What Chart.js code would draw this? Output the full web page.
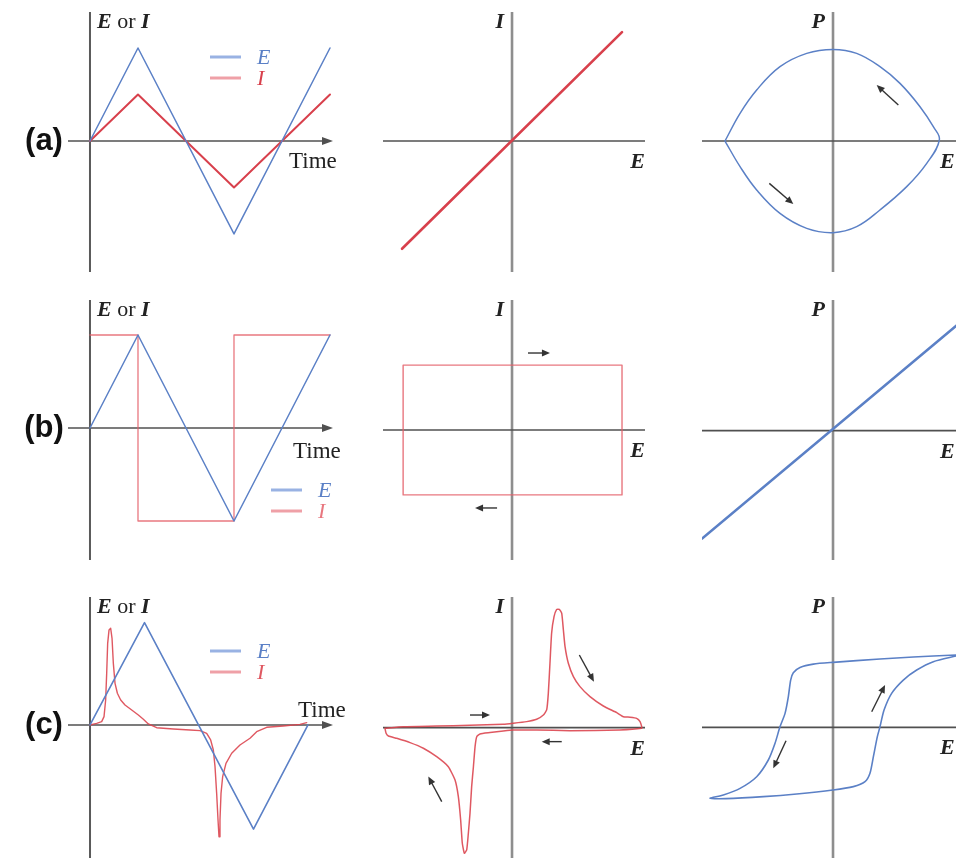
<!DOCTYPE html>
<html>
<head>
<meta charset="utf-8">
<script src="https://cdn.jsdelivr.net/npm/chart.js@4.4.1/dist/chart.umd.min.js"></script>
<style>
  html, body { margin: 0; padding: 0; background: #fff; width: 956px; height: 858px; overflow: hidden; }
  canvas { position: absolute; }
</style>
</head>
<body>
<script>
// (a) resistor: triangle sweep, ohmic I-E, lens shaped P-E loop
const aTime = [0, 1, 3, 5];
const aE = [0, 1, -1, 1];
const aI = [0, 0.5, -0.5, 0.5];
const aOhmE = [-1, 1];
const aOhmI = [-0.98, 0.99];
const aLoopE = [-0.982, -0.845, -0.694, -0.482, -0.239, 0, 0.215, 0.427, 0.67, 0.852, 0.967,
  0.912, 0.791, 0.609, 0.427, 0.215, 0, -0.239, -0.482, -0.694, -0.845, -0.982];
const aLoopP = [0, -0.233, -0.445, -0.658, -0.794, -0.833, -0.779, -0.627, -0.415, -0.203, 0.01,
  0.13, 0.312, 0.524, 0.676, 0.797, 0.833, 0.797, 0.676, 0.464, 0.252, 0];
const aLoopArrows = [[0.594, 0.327, 0.397, 0.509], [-0.579, -0.385, -0.361, -0.573]];

// (b) capacitor: square current, rectangular I-E, linear P-E
const bTime = [0, 1, 3, 5];
const bE = [0, 1, -1, 1];
const bTimeI = [0, 1, 1, 3, 3, 5];
const bI = [1, 1, -1, -1, 1, 1];
const bRectE = [-0.99, 1.0, 1.0, -0.99, -0.99];
const bRectI = [0.59, 0.59, -0.59, -0.59, 0.59];
const bRectArrows = [[0.145, 0.7, 0.345, 0.7], [-0.136, -0.709, -0.336, -0.709]];
const bLineE = [-1.19, 1.21];
const bLineP = [-0.98, 1.03];

// (c) ferroelectric: switching current peaks and hysteresis
const cTime = [0, 1, 3, 4];
const cE = [0, 1.1, -1.12, 0];
const cTimeI = [0, 0.122, 0.214, 0.257, 0.287, 0.306, 0.324, 0.349, 0.379, 0.404, 0.428, 0.459, 0.502,
  0.563, 0.642, 0.765, 0.887, 0.979, 1.07, 1.223, 1.529, 1.835, 2.018, 2.141, 2.214, 2.263, 2.294,
  2.324, 2.349, 2.367, 2.385, 2.404, 2.434, 2.495, 2.6, 2.752, 2.936, 3.058, 3.242, 3.547, 3.853, 3.976];
const cI = [0, 0.018, 0.036, 0.09, 0.269, 0.556, 0.878, 1.022, 1.04, 0.932, 0.663, 0.448, 0.341,
  0.269, 0.215, 0.161, 0.108, 0.061, 0.011, -0.029, -0.043, -0.054, -0.061, -0.09, -0.161, -0.269, -0.448,
  -0.735, -1.022, -1.201, -1.022, -0.735, -0.556, -0.412, -0.304, -0.215, -0.143, -0.072, -0.025, -0.011, 0.007, 0.025];
const cvE = [-1.155, -0.988, -0.685, -0.382, -0.079, 0.012, 0.133, 0.224, 0.285, 0.315, 0.33, 0.345, 0.36,
  0.382, 0.406, 0.43, 0.452, 0.467, 0.482, 0.512, 0.558, 0.618, 0.709, 0.83, 0.952, 1.012, 1.073, 1.133, 1.164, 1.179,
  1.179, 0.982, 0.527, 0.224, 0.012, -0.079, -0.2, -0.291, -0.321, -0.336, -0.351, -0.367, -0.382, -0.397,
  -0.412, -0.433, -0.452, -0.467, -0.488, -0.518, -0.579, -0.685, -0.806, -0.927, -1.048, -1.124, -1.145, -1.155];
const cvI = [-0.006, 0.009, 0.015, 0.022, 0.031, 0.04, 0.055, 0.076, 0.115, 0.161, 0.312, 0.585, 0.858,
  1.009, 1.076, 1.076, 1.04, 0.888, 0.736, 0.585, 0.464, 0.373, 0.282, 0.197, 0.136, 0.1, 0.095, 0.085, 0.055, 0.009,
  -0.006, -0.021, -0.027, -0.021, -0.021, -0.03, -0.045, -0.057, -0.082, -0.173, -0.355, -0.536, -0.778, -0.96,
  -1.112, -1.142, -1.051, -0.839, -0.627, -0.476, -0.355, -0.264, -0.187, -0.136, -0.097, -0.076, -0.051, -0.006];
const cvArrows = [[-0.382, 0.115, -0.2, 0.115], [0.452, -0.127, 0.27, -0.127],
  [0.612, 0.661, 0.745, 0.418], [-0.639, -0.673, -0.761, -0.445]];
const feE = [1.118, 0.912, 0.73, 0.427, 0, -0.179, -0.3, -0.361, -0.385, -0.406, -0.436, -0.482, -0.527,
  -0.588, -0.694, -0.845, -0.997, -1.118,
  -0.973, -0.633, -0.33, 0, 0.185, 0.291, 0.336, 0.367, 0.403, 0.427, 0.464, 0.533, 0.639, 0.761, 0.912, 1.118];
const feP = [0.657, 0.648, 0.639, 0.621, 0.591, 0.575, 0.545, 0.497, 0.43, 0.279, 0.127, 0.005, -0.145,
  -0.297, -0.449, -0.555, -0.615, -0.645,
  -0.648, -0.63, -0.606, -0.57, -0.539, -0.494, -0.418, -0.267, -0.085, 0.005, 0.157, 0.309, 0.43, 0.521, 0.597, 0.648];
const feArrows = [[0.352, 0.142, 0.473, 0.385], [-0.427, -0.122, -0.543, -0.373]];

const BLUE = '#5b80c6';
const RED = '#d8404c';
const SERIF = '"Liberation Serif", "DejaVu Serif", serif';

// canvas boxes for the 3x3 grid; padding leaves the plot area where the axes run
const COLS = [
  { left: 0, width: 360, padL: 68, padR: 27 },
  { left: 360, width: 320, padL: 23, padR: 35 },
  { left: 680, width: 290, padL: 22, padR: 4 }
];
const ROWS = [
  { top: 0, height: 290, padT: 12, padB: 18 },
  { top: 290, height: 290, padT: 10, padB: 20 },
  { top: 580, height: 278, padT: 17, padB: 0 }
];

const zip = (xs, ys) => xs.map((x, i) => ({ x, y: ys[i] }));

function line(label, xs, ys, color, width, tension) {
  return {
    label, data: zip(xs, ys), borderColor: color, borderWidth: width,
    showLine: true, fill: false, pointRadius: 0, tension: tension || 0
  };
}

function drawParts(ctx, parts, x, y, align) {
  let total = 0;
  parts.forEach((p) => { ctx.font = p.f; total += ctx.measureText(p.t).width; });
  let cx = align === 'right' ? x - total : x;
  ctx.textAlign = 'left';
  ctx.textBaseline = 'alphabetic';
  parts.forEach((p) => {
    ctx.font = p.f;
    ctx.fillStyle = p.c || '#222';
    ctx.fillText(p.t, cx, y);
    cx += ctx.measureText(p.t).width;
  });
}

function drawArrow(ctx, x1, y1, x2, y2) {
  const ang = Math.atan2(y2 - y1, x2 - x1);
  ctx.strokeStyle = '#333';
  ctx.fillStyle = '#333';
  ctx.lineWidth = 1.4;
  ctx.beginPath();
  ctx.moveTo(x1, y1);
  ctx.lineTo(x2 - 5 * Math.cos(ang), y2 - 5 * Math.sin(ang));
  ctx.stroke();
  ctx.beginPath();
  ctx.moveTo(x2, y2);
  ctx.lineTo(x2 - 8 * Math.cos(ang) + 3.5 * Math.sin(ang), y2 - 8 * Math.sin(ang) - 3.5 * Math.cos(ang));
  ctx.lineTo(x2 - 8 * Math.cos(ang) - 3.5 * Math.sin(ang), y2 - 8 * Math.sin(ang) + 3.5 * Math.cos(ang));
  ctx.closePath();
  ctx.fill();
}

// axes through the origin, labels, direction marks and the small legend
const decor = {
  id: 'decor',
  beforeDatasetsDraw(chart, args, o) {
    const ctx = chart.ctx, a = chart.chartArea;
    const x0 = chart.scales.x.getPixelForValue(0);
    const y0 = chart.scales.y.getPixelForValue(0);
    ctx.save();
    ctx.strokeStyle = o.timeAxis ? '#5a5a5a' : '#8e8e8e';
    ctx.lineWidth = o.timeAxis ? 2 : 2.6;
    ctx.beginPath(); ctx.moveTo(x0, a.top); ctx.lineTo(x0, a.bottom); ctx.stroke();
    ctx.strokeStyle = '#505050';
    ctx.lineWidth = 1.7;
    ctx.beginPath(); ctx.moveTo(a.left, y0); ctx.lineTo(o.timeAxis ? a.right - 6 : a.right, y0); ctx.stroke();
    if (o.timeAxis) {
      ctx.fillStyle = '#505050';
      ctx.beginPath();
      ctx.moveTo(a.right, y0); ctx.lineTo(a.right - 11, y0 - 4); ctx.lineTo(a.right - 11, y0 + 4);
      ctx.closePath(); ctx.fill();
    }
    ctx.restore();
  },
  afterDatasetsDraw(chart, args, o) {
    const ctx = chart.ctx, a = chart.chartArea;
    const sx = chart.scales.x, sy = chart.scales.y;
    const x0 = sx.getPixelForValue(0), y0 = sy.getPixelForValue(0);
    ctx.save();
    (o.arrows || []).forEach((r) => {
      drawArrow(ctx, sx.getPixelForValue(r[0]), sy.getPixelForValue(r[1]),
        sx.getPixelForValue(r[2]), sy.getPixelForValue(r[3]));
    });
    const bi = 'italic bold 22px ' + SERIF;
    if (o.timeAxis) {
      drawParts(ctx, [{ t: 'E', f: bi }, { t: ' or ', f: '22px ' + SERIF }, { t: 'I', f: bi }], x0 + 7, a.top + 16);
      drawParts(ctx, [{ t: 'Time', f: '23px ' + SERIF }], o.timeX, y0 + o.timeDy);
      ctx.font = 'bold 31px "Liberation Sans", Arial, sans-serif';
      ctx.fillStyle = '#111';
      ctx.textAlign = 'center';
      ctx.textBaseline = 'middle';
      ctx.fillText(o.tag, 44, y0);
      // legend built from the dataset labels
      chart.data.datasets.forEach((ds, i) => {
        const ly = a.top + o.legend[1] + i * 21;
        const lx = a.left + o.legend[0];
        ctx.strokeStyle = i === 0 ? 'rgba(110,145,215,0.7)' : 'rgba(232,120,130,0.7)';
        ctx.lineWidth = 3;
        ctx.beginPath(); ctx.moveTo(lx, ly); ctx.lineTo(lx + 31, ly); ctx.stroke();
        drawParts(ctx, [{ t: ds.label, f: 'italic 22px ' + SERIF, c: ds.borderColor }], lx + 47, ly + 7);
      });
    } else {
      drawParts(ctx, [{ t: o.yName, f: bi }], x0 - 8, a.top + 16, 'right');
      if (o.edgeLabel) drawParts(ctx, [{ t: 'E', f: bi }], a.right - 26, y0 + 27);
      else drawParts(ctx, [{ t: 'E', f: bi }], a.right, y0 + 27, 'right');
    }
    ctx.restore();
  }
};

function panel(col, row, xRange, yRange, datasets, extra) {
  const c = COLS[col], r = ROWS[row];
  const cv = document.createElement('canvas');
  cv.width = c.width;
  cv.height = r.height;
  cv.style.left = c.left + 'px';
  cv.style.top = r.top + 'px';
  document.body.appendChild(cv);
  return new Chart(cv, {
    type: 'scatter',
    data: { datasets },
    options: {
      responsive: false,
      animation: false,
      events: [],
      layout: { padding: { left: c.padL, right: c.padR, top: r.padT, bottom: r.padB } },
      plugins: { legend: { display: false }, tooltip: { enabled: false }, decor: extra },
      scales: {
        x: { type: 'linear', display: false, min: xRange[0], max: xRange[1] },
        y: { type: 'linear', display: false, min: yRange[0], max: yRange[1] }
      },
      elements: { line: { borderJoinStyle: 'round', borderCapStyle: 'round' } }
    },
    plugins: [decor]
  });
}

const X_MID = [-1.173, 1.209];
const X_RIGHT = [-1.191, 1.209];

// row (a)
panel(0, 0, [-0.458, 5.0625], [-1.409, 1.387], [
  line('E', aTime, aE, BLUE, 1.5),
  line('I', aTime, aI, RED, 2)
], { timeAxis: true, tag: '(a)', timeX: 289, timeDy: 27, legend: [142, 45] });
panel(1, 0, X_MID, [-1.191, 1.173], [line('I', aOhmE, aOhmI, RED, 2.6)], { yName: 'I' });
panel(2, 0, X_RIGHT, [-1.191, 1.173], [line('P', aLoopE, aLoopP, BLUE, 1.5, 0.4)],
  { yName: 'P', edgeLabel: true, arrows: aLoopArrows });

// row (b)
panel(0, 1, [-0.458, 5.0625], [-1.419, 1.376], [
  line('E', bTime, bE, BLUE, 1.5),
  line('I', bTimeI, bI, 'rgba(228,95,105,0.85)', 1.3)
], { timeAxis: true, tag: '(b)', timeX: 293, timeDy: 30, legend: [203, 190] });
panel(1, 1, X_MID, [-1.182, 1.182], [line('I', bRectE, bRectI, 'rgba(228,95,105,0.85)', 1.4)],
  { yName: 'I', arrows: bRectArrows });
panel(2, 1, X_RIGHT, [-1.175, 1.188], [line('P', bLineE, bLineP, BLUE, 2.6)],
  { yName: 'P', edgeLabel: true });

// row (c)
panel(0, 2, [-0.404, 4.459], [-1.43, 1.376], [
  line('E', cTime, cE, BLUE, 1.6),
  line('I', cTimeI, cI, 'rgba(220,70,80,0.9)', 1.4)
], { timeAxis: true, tag: '(c)', timeX: 298, timeDy: -8, legend: [142, 54] });
panel(1, 2, X_MID, [-1.185, 1.188], [line('I', cvE, cvI, 'rgba(220,70,80,0.9)', 1.5, 0.15)],
  { yName: 'I', arrows: cvArrows });
panel(2, 2, X_RIGHT, [-1.188, 1.185], [line('P', feE, feP, BLUE, 1.6, 0.25)],
  { yName: 'P', edgeLabel: true, arrows: feArrows });
</script>
</body>
</html>
